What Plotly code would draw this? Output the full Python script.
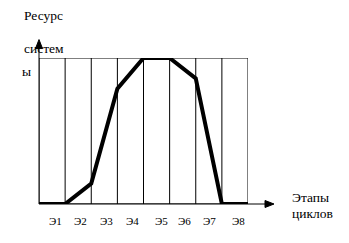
import plotly.graph_objects as go

stages = [0, 1, 2, 3, 4, 5, 6, 7, 8]
resource = [0, 0, 14, 79, 100, 100, 86, 0, 0]
stage_labels = ["Э1", "Э2", "Э3", "Э4", "Э5", "Э6", "Э7", "Э8"]
label_pos = [0.62, 1.6, 2.57, 3.56, 4.67, 5.56, 6.51, 7.62]

W, H = 349, 243
L, R, T, B = 39, 248, 57.5, 204
FONT = "Liberation Serif"
BIG = 13.5

fig = go.Figure()
fig.add_trace(go.Scatter(x=stages, y=resource, mode="lines",
                         line=dict(color="black", width=4), hoverinfo="skip",
                         cliponaxis=False))


def px(xp):
    return (xp - L) / (R - L)


def py(yp):
    return (B - yp) / (B - T)


shapes = [dict(type="rect", xref="x", yref="y", x0=0, x1=8, y0=0, y1=100,
               line=dict(color="black", width=1), layer="below")]
for s in stages[1:-1]:
    shapes.append(dict(type="line", xref="x", yref="y", x0=s, x1=s, y0=0, y1=100,
                       line=dict(color="black", width=1), layer="below"))
# axis lines with arrowheads (paper coordinates, extend past plot area)
shapes.append(dict(type="line", xref="paper", yref="paper", x0=0, x1=0, y0=0, y1=py(46),
                   line=dict(color="black", width=1)))
shapes.append(dict(type="line", xref="paper", yref="paper", x0=0, x1=px(266), y0=0, y1=0,
                   line=dict(color="black", width=1)))
shapes.append(dict(type="path", xref="paper", yref="paper",
                   path=f"M {px(39)} {py(39)} L {px(35.5)} {py(48)} L {px(42.5)} {py(48)} Z",
                   fillcolor="black", line=dict(color="black", width=1)))
shapes.append(dict(type="path", xref="paper", yref="paper",
                   path=f"M {px(274)} {py(204)} L {px(265)} {py(200.5)} L {px(265)} {py(207.5)} Z",
                   fillcolor="black", line=dict(color="black", width=1)))

annotations = [
    dict(x=px(22), y=py(15), xref="paper", yref="paper", text="Ресурс", showarrow=False,
         xanchor="left", yanchor="middle", font=dict(family=FONT, size=BIG, color="black")),
    dict(x=px(22), y=py(48), xref="paper", yref="paper", text="систем", showarrow=False,
         xanchor="left", yanchor="middle", font=dict(family=FONT, size=BIG, color="black")),
    dict(x=px(20), y=py(71), xref="paper", yref="paper", text="ы", showarrow=False,
         xanchor="left", yanchor="middle", font=dict(family=FONT, size=BIG, color="black")),
    dict(x=px(290), y=py(197), xref="paper", yref="paper", text="Этапы", showarrow=False,
         xanchor="left", yanchor="middle", font=dict(family=FONT, size=BIG, color="black")),
    dict(x=px(290), y=py(214), xref="paper", yref="paper", text="циклов", showarrow=False,
         xanchor="left", yanchor="middle", font=dict(family=FONT, size=BIG, color="black")),
]
for lab, pos in zip(stage_labels, label_pos):
    annotations.append(dict(x=pos, y=py(221), xref="x", yref="paper", text=lab,
                            showarrow=False, xanchor="center", yanchor="middle",
                            font=dict(family=FONT, size=11, color="black")))

fig.update_layout(
    width=W, height=H,
    margin=dict(l=L, r=W - R, t=T, b=H - B, pad=0),
    paper_bgcolor="white", plot_bgcolor="white",
    showlegend=False,
    xaxis=dict(range=[0, 8], showgrid=False, zeroline=False, showticklabels=False,
               ticks="", showline=False, fixedrange=True),
    yaxis=dict(range=[0, 100], showgrid=False, zeroline=False, showticklabels=False,
               ticks="", showline=False, fixedrange=True),
    shapes=shapes,
    annotations=annotations,
)

fig.write_html("out.html", config=dict(displayModeBar=False))
